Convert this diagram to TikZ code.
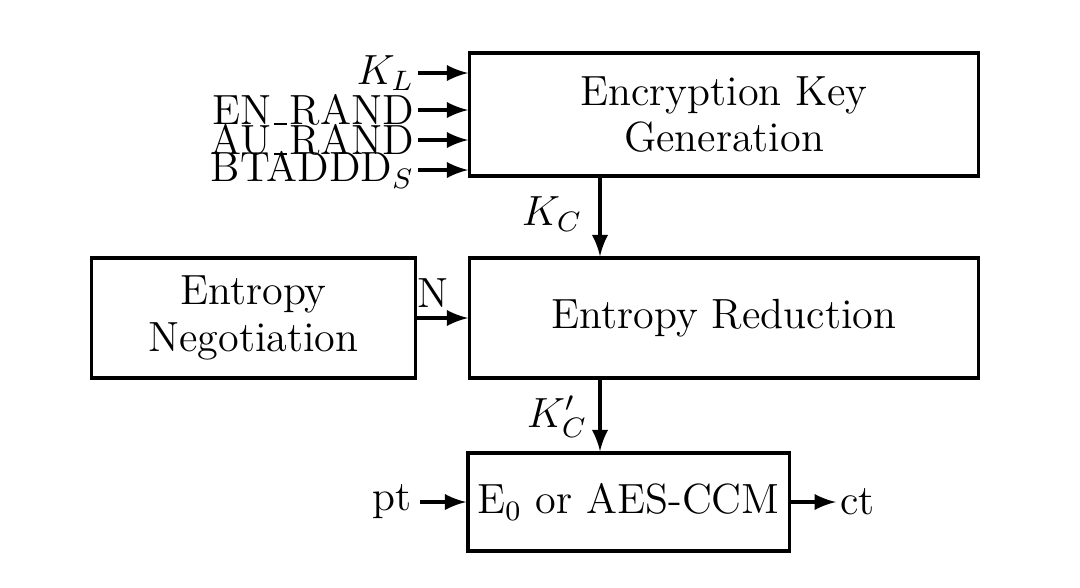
\documentclass[tikz,border=0pt]{standalone}
\usepackage{amsmath}
\usepackage{tikz}
\usetikzlibrary{positioning,arrows}
% underscore sitting on the baseline
\newcommand{\lowbar}{\kern0.06em\vbox{\hrule width0.32em height0.45pt}\kern0.06em}

\begin{document}
\begin{tikzpicture}[x=0.01cm, y=-0.01cm,
    font=\fontsize{12}{13.3}\selectfont,
    block/.style={draw, line width=0.9pt, align=center, inner sep=0pt},
    feed/.style={-latex, line width=1.1pt}]
    \useasboundingbox (0,0) rectangle (1080,587);

    % Draw the blocks
    \node[block, minimum width=5.08cm, minimum height=1.23cm] (keygen) at (724,114.5) {Encryption Key\\Generation};
    \node[block, minimum width=5.08cm, minimum height=1.2cm] (reduce) at (724,318) {Entropy Reduction};
    \node[block, minimum width=3.23cm, minimum height=1.2cm] (negot) at (253.5,318) {Entropy\\Negotiation};
    \node[block, minimum width=3.21cm, minimum height=0.98cm] (cipher) at (628.5,502) {E$_0$ or AES-CCM};

    % Inputs of the key generation
    \foreach \name/\txt/\y in {kl/$K_L$/73, enrand/EN\lowbar RAND/110, aurand/AU\lowbar RAND/140, btaddd/BTADDD$_S$/170} {
        \node[anchor=east, inner sep=1pt] (\name) at (418,\y) {\txt};
        \draw[feed] (\name.east) -- (\name.east -| keygen.west);
    }

    % Keys between the blocks
    \coordinate (kcout) at (600,0);
    \draw[feed] (kcout |- keygen.south) -- (kcout |- reduce.north);
    \node (kc) at (552,214) {$K_C$};
    \draw[feed] (kcout |- reduce.south) -- (kcout |- cipher.north);
    \node (kcp) at (557,417) {$K'_C$};

    % Negotiated entropy
    \draw[feed] (negot.east) -- (reduce.west);
    \node (n) at (433,293) {N};

    % Plaintext and ciphertext
    \node[anchor=east, inner sep=1pt] (pt) at (416,502) {pt};
    \draw[feed] (pt.east) ++(4,0) -- (cipher.west);
    \node[anchor=west, inner sep=1pt] (ct) at (836,502) {ct};
    \draw[feed] (cipher.east) -- (ct.west);
\end{tikzpicture}
\end{document}
